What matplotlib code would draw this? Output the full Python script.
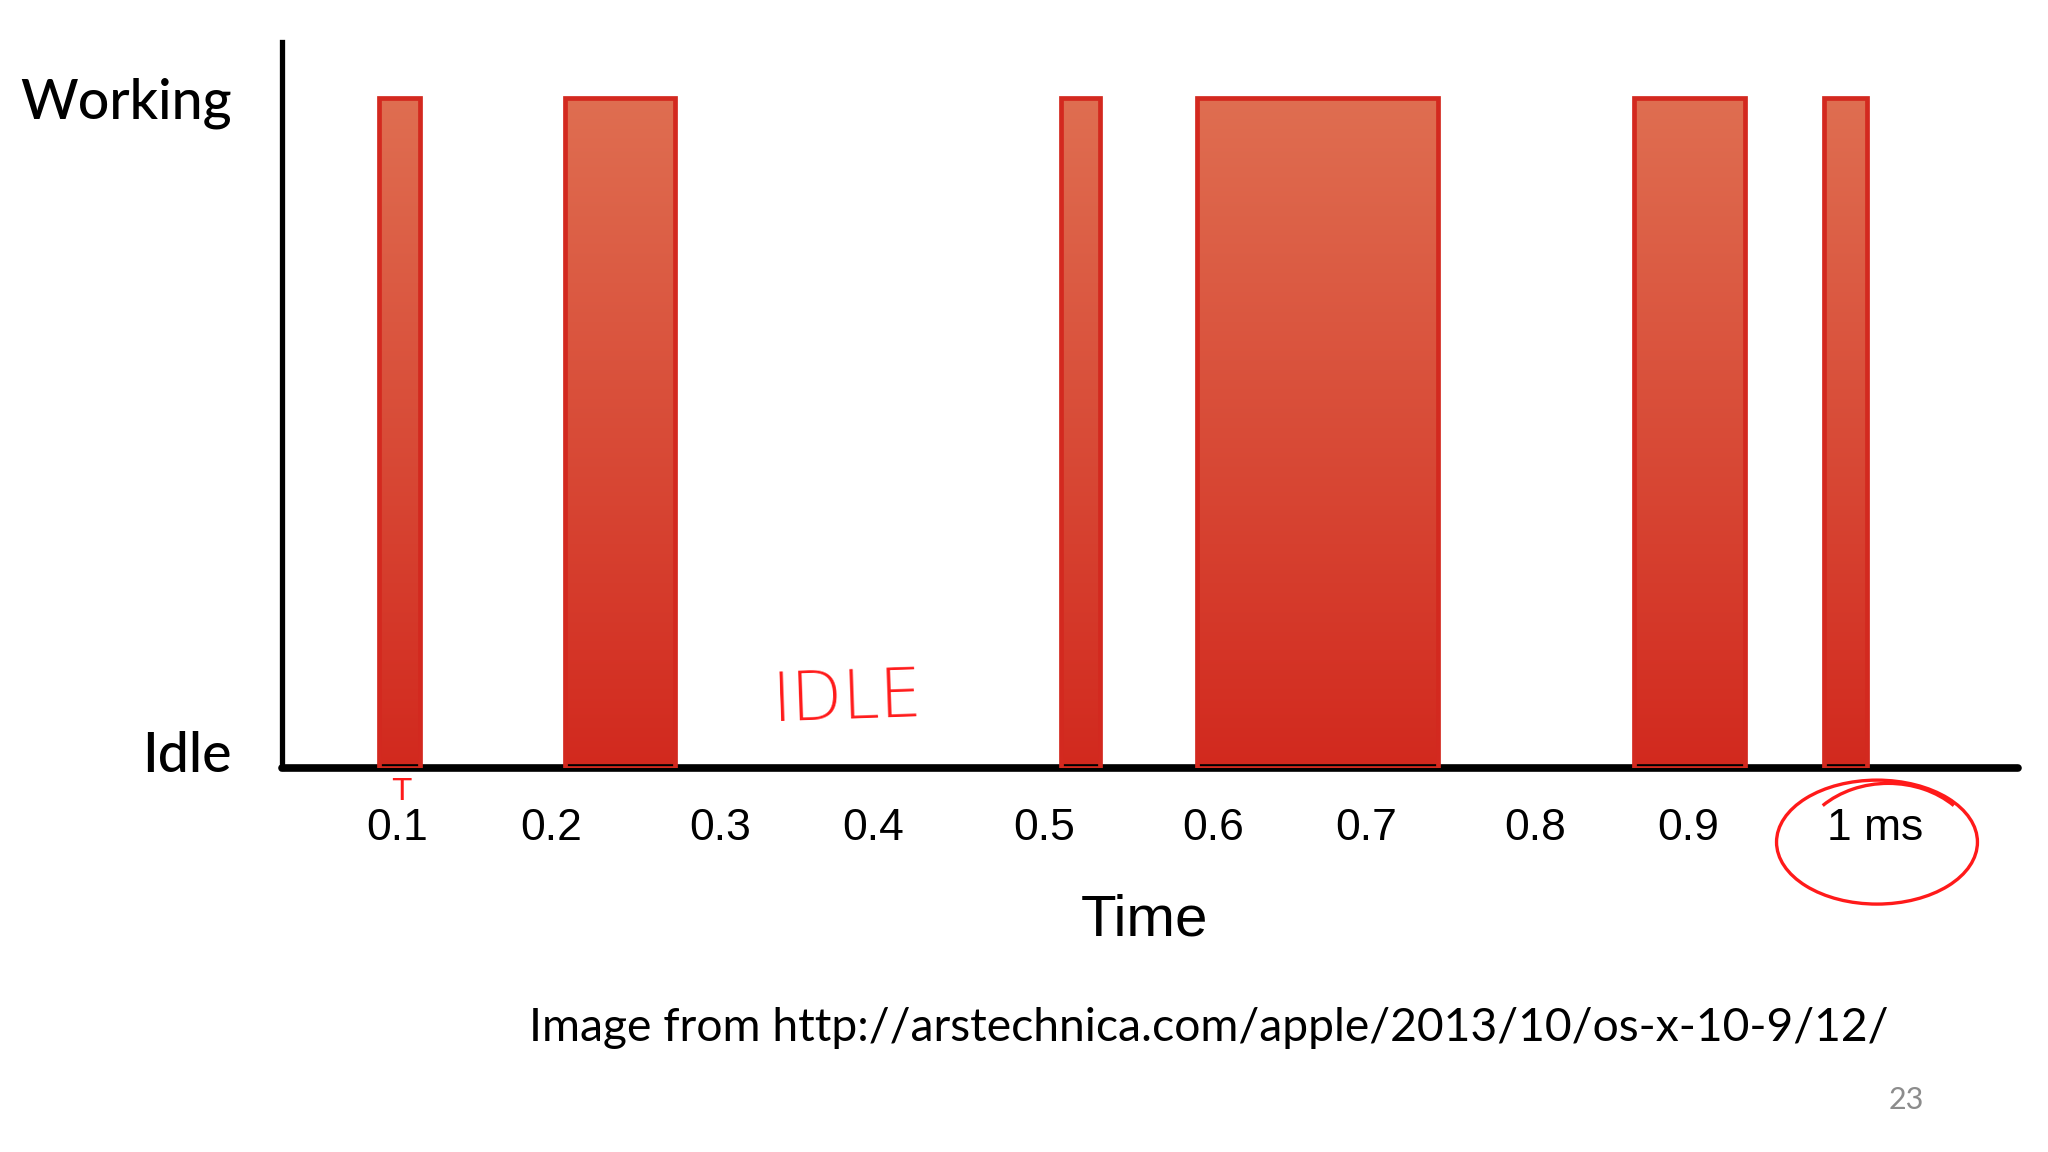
"""Working vs idle timeline (timer coalescing slide), rebuilt with matplotlib."""

import matplotlib.pyplot as plt
import numpy as np
from matplotlib.colors import LinearSegmentedColormap
from matplotlib.patches import Arc, Ellipse
from matplotlib.transforms import ScaledTranslation

# time in ms
BAR_START = [0.089, 0.202, 0.504, 0.587, 0.853, 0.969]
BAR_END = [0.114, 0.269, 0.528, 0.734, 0.921, 0.995]
BAR_STATE = [1, 1, 1, 1, 1, 1]  # 1 = working, 0 = idle

# tick spacing in the source image is not quite even
TICK_POS = [0.100, 0.194, 0.297, 0.390, 0.494, 0.597, 0.690, 0.793, 0.886, 1.000]
TICK_LABELS = ["0.1", "0.2", "0.3", "0.4", "0.5", "0.6", "0.7", "0.8", "0.9", "1 ms"]
STATE_POS = [0, 1]
STATE_LABELS = ["Idle", "Working"]

EDGE = "#d3291f"
TOP = "#df6e51"
BOTTOM = "#d2291e"
INK = "#ff1a1a"

fig = plt.figure(figsize=(20.48, 11.52), dpi=100)
fig.patch.set_facecolor("white")
ax = fig.add_axes([0.1377, 0.3333, 0.8477, 0.6302])

widths = [e - s for s, e in zip(BAR_START, BAR_END)]
bars = ax.bar(BAR_START, BAR_STATE, width=widths, align="edge",
              facecolor="none", edgecolor=EDGE, linewidth=3.4, zorder=3)

cmap = LinearSegmentedColormap.from_list("bar", [BOTTOM, TOP])
grad = np.linspace(0, 1, 256).reshape(-1, 1)
for b in bars:
    x0, w, h = b.get_x(), b.get_width(), b.get_height()
    ax.imshow(grad, extent=[x0, x0 + w, 0, h], origin="lower", cmap=cmap,
              aspect="auto", zorder=2)

ax.set_xlim(0.030, 1.087)
ax.set_ylim(0, 1.0836)

for side in ("top", "right"):
    ax.spines[side].set_visible(False)
ax.spines["left"].set_linewidth(3.8)
ax.spines["bottom"].set_linewidth(5.5)
ax.spines["bottom"].set_capstyle("round")

ax.set_xticks(TICK_POS, TICK_LABELS)
ax.tick_params(axis="x", length=0, pad=29, labelsize=32)
for lab in ax.get_xticklabels():
    lab.set_fontfamily("Liberation Sans")

ax.set_yticks(STATE_POS, STATE_LABELS)
ax.tick_params(axis="y", length=0, pad=36, labelsize=40)
for lab in ax.get_yticklabels():
    lab.set_fontfamily("Lato")
    lab.set_fontweight("medium")
# "Idle" sits a little above the axis line in the original
ax.get_yticklabels()[0].set_transform(
    ax.get_yticklabels()[0].get_transform()
    + ScaledTranslation(0, 0.17, fig.dpi_scale_trans))

fig.text(0.559, 0.201, "Time", ha="center", va="center", fontsize=42,
         family="Liberation Sans")

fig.text(0.2583, 0.108,
         "Image from http://arstechnica.com/apple/2013/10/os-x-10-9/12/",
         ha="left", va="center", fontsize=33.3, family="Lato")
fig.text(0.931, 0.045, "23", ha="center", va="center", fontsize=22,
         color="#8c8c8c", family="Lato")

# hand-written red annotations
fig.text(0.4136, 0.393, "IDLE", ha="center", va="center", fontsize=48,
         color=INK, family="DejaVu Sans", fontweight="light", rotation=2)
fig.text(0.196, 0.313, "T", ha="center", va="center", fontsize=22,
         color=INK, family="DejaVu Sans")
fig.patches.append(Ellipse((0.9165, 0.269), 0.0981, 0.1076,
                           transform=fig.transFigure, fill=False,
                           edgecolor=INK, linewidth=2.4))
fig.patches.append(Arc((0.922, 0.255), 0.09, 0.13, theta1=55, theta2=125,
                       transform=fig.transFigure, edgecolor=INK,
                       linewidth=2.4))

fig.savefig("out.png", dpi=100, facecolor="white")
